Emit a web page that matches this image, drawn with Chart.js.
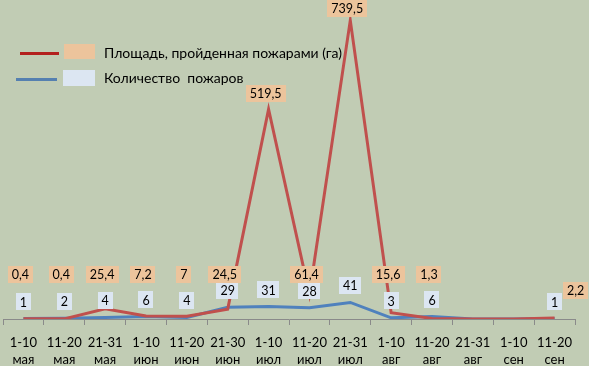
<!DOCTYPE html>
<html><head><meta charset="utf-8">
<script src="https://cdn.jsdelivr.net/npm/chart.js@4.4.1/dist/chart.umd.min.js"></script>
<style>
html,body{margin:0;padding:0;background:#C1CCB4;}
#wrap{position:relative;width:589px;height:366px;overflow:hidden;background:#C1CCB4;}
#c{position:absolute;left:0;top:0;}
.leg-line{position:absolute;height:3px;}
.leg-box{position:absolute;}
.leg-text{position:absolute;font-family:Lato,"Open Sans",sans-serif;font-size:14px;color:#000;white-space:pre;line-height:16px;}
</style></head><body>
<div id="wrap"><canvas id="c" width="589" height="366"></canvas><div id="legend"></div></div>
<script>
// ---- data ----
const periods = ['1-10','11-20','21-31','1-10','11-20','21-30','1-10','11-20','21-31','1-10','11-20','21-31','1-10','11-20'];
const months  = ['мая','мая','мая','июн','июн','июн','июл','июл','июл','авг','авг','авг','сен','сен'];
const areaBurned = [0.4, 0.4, 25.4, 7.2, 7, 24.5, 519.5, 61.4, 739.5, 15.6, 1.3, 0, 0, 2.2];
const fireCount  = [1, 2, 4, 6, 4, 29, 31, 28, 41, 3, 6, 0, 0, 1];
const seriesNames = ['Площадь, пройденная пожарами (га)', 'Количество  пожаров'];

// ---- styles ----
const RED_LINE = '#C0504D', BLUE_LINE = '#4F81BD';
const RED_LEG = '#B3201E', BLUE_LEG = '#5580B0';
const RED_BOX = '#ECC49C', BLUE_BOX = '#DCE6F2';
const FONT = 'Lato, "Open Sans", sans-serif';

// legend (HTML, real text)
const legend = document.getElementById('legend');
const legItems = [
  {name: seriesNames[0], line: RED_LEG, box: RED_BOX, lx: 20, lw: 39, ly: 52, bx: 64, by: 44, bw: 31, bh: 15, ty: 45},
  {name: seriesNames[1], line: BLUE_LEG, box: BLUE_BOX, lx: 16, lw: 41, ly: 78, bx: 63, by: 70, bw: 32, bh: 16, ty: 70}
];
legItems.forEach(it => {
  const l = document.createElement('div'); l.className = 'leg-line';
  Object.assign(l.style, {left: it.lx + 'px', top: it.ly + 'px', width: it.lw + 'px', background: it.line});
  const b = document.createElement('div'); b.className = 'leg-box';
  Object.assign(b.style, {left: it.bx + 'px', top: it.by + 'px', width: it.bw + 'px', height: it.bh + 'px', background: it.box});
  const t = document.createElement('div'); t.className = 'leg-text';
  t.textContent = it.name;
  Object.assign(t.style, {left: '104px', top: it.ty + 'px'});
  legend.append(l, b, t);
});

const fmt = v => String(v).replace('.', ',');

const labelPlugin = {
  id: 'boxLabels',
  afterDatasetsDraw(chart) {
    const ctx = chart.ctx;
    const base = chart.scales.y.getPixelForValue(0);
    ctx.save();
    ctx.font = '12.5px ' + FONT;
    ctx.textAlign = 'center';
    ctx.textBaseline = 'middle';
    const drawBox = (txt, cx, cy, bg) => {
      const w = ctx.measureText(txt).width + 8, h = 17;
      ctx.fillStyle = bg;
      ctx.fillRect(Math.round(cx - w / 2), Math.round(cy - h / 2), Math.round(w), h);
      ctx.fillStyle = '#000';
      ctx.fillText(txt, cx, cy + 1);
    };
    // blue labels (count)
    const mb = chart.getDatasetMeta(1);
    fireCount.forEach((v, i) => {
      if (!v) return;
      const p = mb.data[i];
      drawBox(fmt(v), p.x, p.y - 17, BLUE_BOX);
    });
    // red labels (area)
    const mr = chart.getDatasetMeta(0);
    const last = areaBurned.length - 1;
    areaBurned.forEach((v, i) => {
      if (!v) return;
      const p = mr.data[i];
      if (i === last) { drawBox(fmt(v), p.x + 21, p.y - 28, RED_BOX); return; }
      const cy = Math.max(8, Math.min(p.y - 16, base - 45));
      drawBox(fmt(v), p.x - 3, cy, RED_BOX);
    });
    ctx.restore();
  }
};

new Chart(document.getElementById('c'), {
  type: 'line',
  data: {
    labels: periods.map((p, i) => [p, months[i]]),
    datasets: [
      {label: seriesNames[0], data: areaBurned, borderColor: RED_LINE, borderWidth: 3, pointRadius: 0, tension: 0, fill: false},
      {label: seriesNames[1], data: fireCount, borderColor: BLUE_LINE, borderWidth: 3, pointRadius: 0, tension: 0, fill: false}
    ]
  },
  options: {
    responsive: false, animation: false, devicePixelRatio: 1,
    layout: {padding: {left: 3, right: 14, top: 0, bottom: 0}},
    plugins: {legend: {display: false}, tooltip: {enabled: false}},
    scales: {
      x: {
        offset: true,
        afterFit(scale) { scale.height = 47; },
        grid: {display: true, drawOnChartArea: false, offset: true, tickLength: 6, color: '#8A8A8A', lineWidth: 1},
        border: {color: '#8A8A8A', width: 1},
        ticks: {color: '#000', font: {family: FONT, size: 13, lineHeight: 1.3}, padding: 9, maxRotation: 0, autoSkip: false}
      },
      y: {display: false, min: 0, max: 790}
    }
  },
  plugins: [labelPlugin]
});
</script>
</body></html>
